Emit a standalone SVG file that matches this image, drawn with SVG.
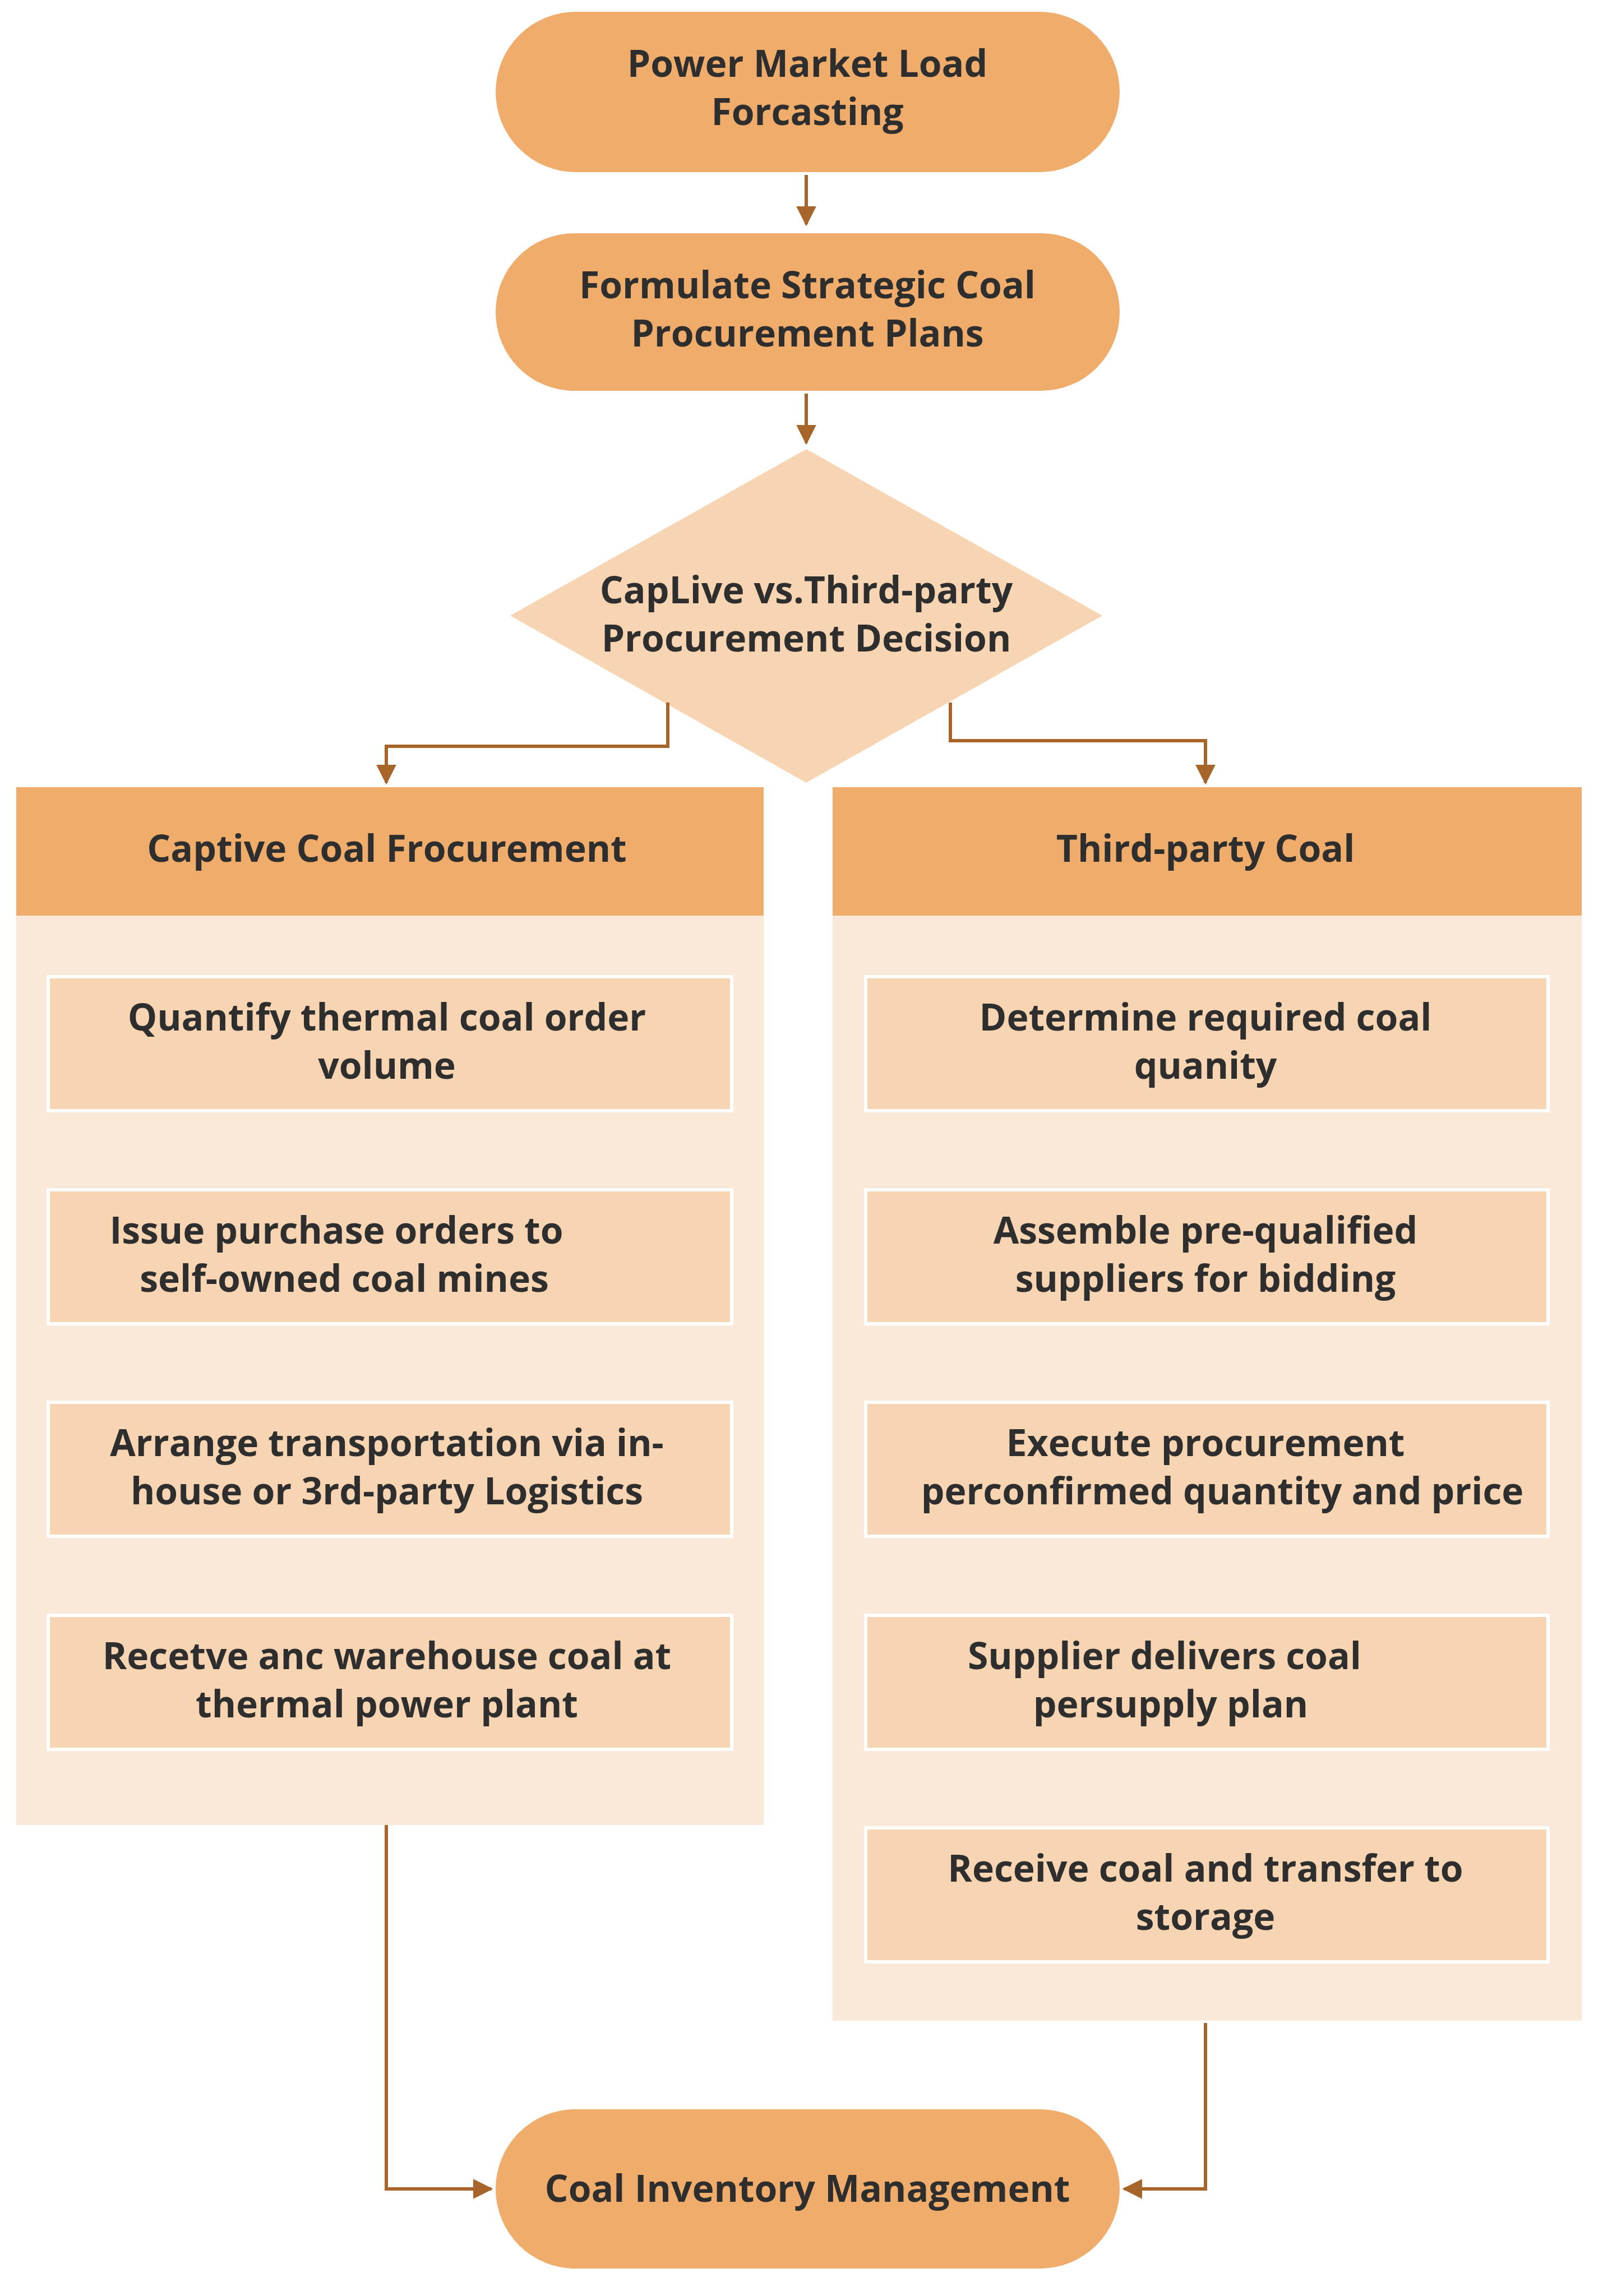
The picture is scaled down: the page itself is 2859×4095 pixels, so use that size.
<svg xmlns="http://www.w3.org/2000/svg" width="2859" height="4095" viewBox="0 0 2859 4095">
<style>
.t{font-family:"Open Sans","Liberation Sans",sans-serif;font-weight:bold;font-size:66px;fill:#2e2e2e;text-anchor:middle}
.term{fill:#F0AC6A}
.box{fill:#F7D4B2;stroke:#fff;stroke-width:6}
.panel{fill:#FAE8D8}
.hdr{fill:#F0AC6A}
.c{fill:none;stroke:#A8652A;stroke-width:6}
</style>
<defs><marker id="a" viewBox="0 0 10 10" refX="9" refY="5" markerWidth="6" markerHeight="6" orient="auto" markerUnits="strokeWidth"><path d="M0,0L10,5L0,10z" fill="#A8652A"/></marker></defs>
<rect width="2859" height="4095" fill="#fff"/>
<g id="n1"><rect class="term" x="884" y="21" width="1113" height="286" rx="143"/><text class="t" x="1440" y="137">Power Market Load</text><text class="t" x="1440" y="223">Forcasting</text></g>
<g id="n2"><rect class="term" x="884" y="416" width="1113" height="281" rx="140"/><text class="t" x="1440" y="532">Formulate Strategic Coal</text><text class="t" x="1440" y="618">Procurement Plans</text></g>
<g id="d"><polygon points="1438,801 1966,1098 1438,1396 910,1098" fill="#F7D4B2"/><text class="t" x="1438" y="1076">CapLive vs.Third-party</text><text class="t" x="1438" y="1162">Procurement Decision</text></g>
<g id="pl"><rect class="panel" x="29" y="1404" width="1333" height="1851"/><rect class="hdr" x="29" y="1404" width="1333" height="229"/><text class="t" x="690" y="1537">Captive Coal Frocurement</text></g>
<g id="pr"><rect class="panel" x="1485" y="1404" width="1336" height="2200"/><rect class="hdr" x="1485" y="1404" width="1336" height="229"/><text class="t" x="2150" y="1537">Third-party Coal</text></g>
<g id="l1"><rect class="box" x="86" y="1742" width="1219" height="239"/><text class="t" x="690" y="1838">Quantify thermal coal order</text><text class="t" x="690" y="1924">volume</text></g>
<g id="l2"><rect class="box" x="86" y="2122" width="1219" height="239"/><text class="t" x="600" y="2218">Issue purchase orders to</text><text class="t" x="614" y="2304">self-owned coal mines</text></g>
<g id="l3"><rect class="box" x="86" y="2501" width="1219" height="239"/><text class="t" x="690" y="2597">Arrange transportation via in-</text><text class="t" x="690" y="2683">house or 3rd-party Logistics</text></g>
<g id="l4"><rect class="box" x="86" y="2881" width="1219" height="239"/><text class="t" x="690" y="2977">Recetve anc warehouse coal at</text><text class="t" x="690" y="3063">thermal power plant</text></g>
<g id="r1"><rect class="box" x="1544" y="1742" width="1217" height="239"/><text class="t" x="2150" y="1838">Determine required coal</text><text class="t" x="2150" y="1924">quanity</text></g>
<g id="r2"><rect class="box" x="1544" y="2122" width="1217" height="239"/><text class="t" x="2150" y="2218">Assemble pre-qualified</text><text class="t" x="2150" y="2304">suppliers for bidding</text></g>
<g id="r3"><rect class="box" x="1544" y="2501" width="1217" height="239"/><text class="t" x="2150" y="2597">Execute procurement</text><text class="t" x="2180" y="2683">perconfirmed quantity and price</text></g>
<g id="r4"><rect class="box" x="1544" y="2881" width="1217" height="239"/><text class="t" x="2077" y="2977">Supplier delivers coal</text><text class="t" x="2088" y="3063">persupply plan</text></g>
<g id="r5"><rect class="box" x="1544" y="3260" width="1217" height="239"/><text class="t" x="2150" y="3356">Receive coal and transfer to</text><text class="t" x="2150" y="3442">storage</text></g>
<g id="n3"><rect class="term" x="884" y="3762" width="1113" height="284" rx="142"/><text class="t" x="1440" y="3927">Coal Inventory Management</text></g>
<g id="connectors">
<path class="c" d="M1438,312V400" marker-end="url(#a)"/>
<path class="c" d="M1438,702V790" marker-end="url(#a)"/>
<path class="c" d="M1191,1253V1331H689V1396" marker-end="url(#a)"/>
<path class="c" d="M1695,1253V1321H2150V1396" marker-end="url(#a)"/>
<path class="c" d="M689,3255V3904H876" marker-end="url(#a)"/>
<path class="c" d="M2150,3608V3904H2005" marker-end="url(#a)"/>
</g>
</svg>
